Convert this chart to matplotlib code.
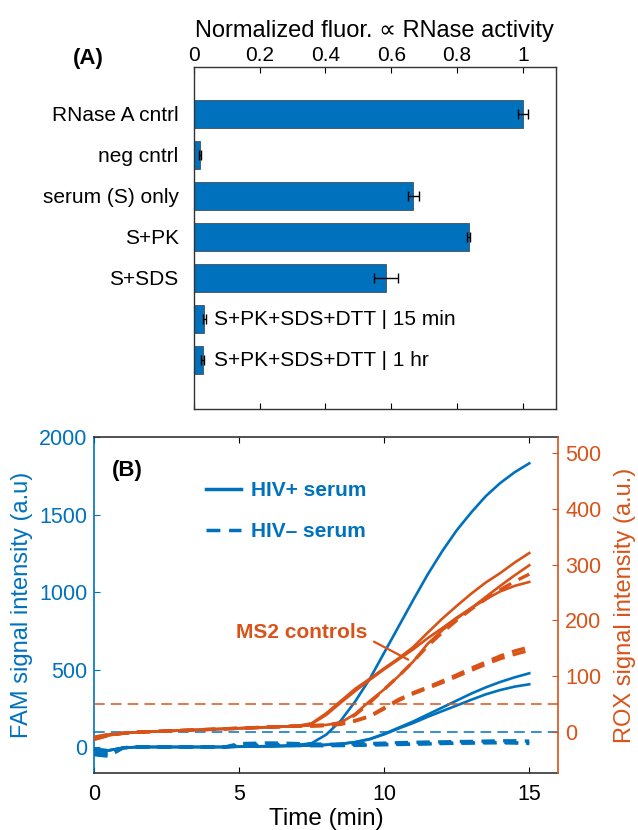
import matplotlib
matplotlib.use("Agg")
import matplotlib.pyplot as plt
from matplotlib.lines import Line2D

plt.rcParams['font.family'] = ['Liberation Sans', 'DejaVu Sans']

BLUE = '#0072BD'
ORANGE = '#D95319'

# ---------------- Panel A data ----------------
categories = ['RNase A cntrl', 'neg cntrl', 'serum (S) only', 'S+PK', 'S+SDS',
              'S+PK+SDS+DTT | 15 min', 'S+PK+SDS+DTT | 1 hr']
activity = [1.0, 0.018, 0.667, 0.835, 0.584, 0.032, 0.026]
activity_err = [0.016, 0.004, 0.016, 0.004, 0.035, 0.004, 0.004]
xticks_a = [0, 0.2, 0.4, 0.6, 0.8, 1]
xticklabels_a = ['0', '0.2', '0.4', '0.6', '0.8', '1']

# ---------------- Panel B data ----------------
time_min = [0, 0.5, 1, 1.5, 2, 2.5, 3, 3.5, 4, 4.5, 5, 5.5, 6, 6.5, 7, 7.5,
            8, 8.5, 9, 9.5, 10, 10.5, 11, 11.5, 12, 12.5, 13, 13.5, 14, 14.5, 15]

# FAM (left axis), HIV+ serum (solid)
fam_pos_1 = [-15, -22, -5, 0, 0, 0, 0, 0, 0, 0, 2, 4, 6, 8, 12, 25,
             80, 170, 295, 440, 610, 780, 950, 1115, 1265, 1400, 1515, 1620, 1705, 1775, 1832]
fam_pos_2 = [-15, -22, -5, 0, 0, 0, 0, 0, 0, 0, 2, 3, 4, 6, 8, 10,
             14, 20, 32, 52, 85, 125, 165, 210, 255, 300, 345, 385, 420, 450, 476]
fam_pos_3 = [-15, -22, -5, 0, 0, 0, 0, 0, 0, 0, 2, 3, 4, 6, 8, 10,
             14, 20, 31, 50, 82, 120, 155, 195, 232, 268, 305, 340, 368, 390, 405]
# FAM (left axis), HIV- serum (dashed)
fam_neg_1 = [-50, -60, -5, 0, 0, 0, 0, 0, 0, 0, 22, 24, 26, 25, 22, 20,
             18, 18, 20, 22, 25, 28, 30, 32, 33, 35, 36, 38, 40, 40, 38]
fam_neg_2 = [-40, -48, -5, 0, 0, 0, 0, 0, 0, 0, 12, 14, 16, 16, 15, 13,
             12, 14, 15, 16, 18, 19, 20, 22, 24, 26, 28, 30, 30, 28, 25]
fam_neg_3 = [-30, -35, -5, 0, 0, 0, 0, 0, 0, 0, 6, 8, 10, 10, 9, 8,
             8, 9, 10, 12, 14, 16, 18, 20, 22, 24, 25, 26, 27, 26, 22]

# ROX (right axis), HIV+ serum MS2 controls (solid)
rox_pos_1 = [-12, -6, -3, -1, 0, 1, 2, 3, 4, 5, 6, 7, 8, 9, 10, 15,
             33, 55, 77, 95, 114, 132, 152, 178, 203, 226, 248, 268, 285, 304, 321]
rox_pos_2 = [-10, -5, -3, -1, 0, 1, 2, 3, 4, 5, 6, 7, 8, 9, 10, 14,
             30, 52, 73, 93, 112, 130, 148, 168, 186, 205, 222, 238, 252, 262, 269]
rox_pos_3 = [-14, -7, -3, -1, 0, 1, 2, 3, 4, 5, 6, 7, 8, 9, 10, 11,
             12, 16, 32, 55, 76, 100, 126, 158, 182, 203, 222, 242, 262, 281, 299]
# ROX (right axis), HIV- serum MS2 controls (dashed)
rox_neg_1 = [-12, -6, -3, -1, 0, 1, 2, 3, 4, 5, 6, 7, 8, 9, 10, 11,
             12, 16, 30, 52, 76, 100, 126, 154, 178, 200, 220, 238, 255, 270, 283]
rox_neg_2 = [-10, -5, -3, -1, 0, 1, 2, 3, 4, 5, 6, 7, 8, 9, 10, 10,
             11, 14, 20, 28, 43, 58, 70, 80, 91, 102, 114, 125, 136, 145, 152]
rox_neg_3 = [-14, -7, -3, -1, 0, 1, 2, 3, 4, 5, 6, 7, 8, 9, 10, 10,
             11, 13, 19, 27, 41, 56, 68, 78, 88, 99, 110, 121, 131, 139, 146]

fam_threshold = 100
rox_threshold = 50

fam_ticks = [0, 500, 1000, 1500, 2000]
rox_ticks = [0, 100, 200, 300, 400, 500]
time_ticks = [0, 5, 10, 15]

# ---------------- Figure ----------------
fig = plt.figure(figsize=(6.38, 8.30), dpi=100)

# Panel A
axA = fig.add_axes([0.304, 0.5069, 0.567, 0.4127])
ypos = list(range(1, len(categories) + 1))
axA.barh(ypos, activity, height=0.7, color=BLUE, edgecolor='#3a3a3a', linewidth=0.5)
axA.errorbar(activity, ypos, xerr=activity_err, fmt='none', ecolor='black',
             elinewidth=1.0, capsize=3.5, capthick=1.0)
axA.set_xlim(0, 1.1)
axA.set_ylim(8.2, -0.15)
axA.set_yticks(ypos[:5])
axA.set_yticklabels(categories[:5], fontsize=15)
axA.tick_params(axis='y', length=0, pad=11)
for y, lab in zip(ypos[5:], categories[5:]):
    axA.text(0.062, y, lab, fontsize=15, va='center', ha='left')
axA.xaxis.tick_top()
axA.xaxis.set_label_position('top')
axA.set_xticks(xticks_a)
axA.set_xticklabels(xticklabels_a, fontsize=15)
axA.tick_params(axis='x', direction='in', top=True, bottom=True, length=4, pad=1)
axA.set_xlabel('Normalized fluor. \u221d RNase activity', fontsize=17, labelpad=7)
for s in axA.spines.values():
    s.set_color('#333333')
    s.set_linewidth(1.0)
fig.text(0.139, 0.929, '(A)', fontsize=16, fontweight='bold', ha='center', va='center')

# Panel B
ax1 = fig.add_axes([0.1478, 0.0683, 0.7272, 0.4048])
ax2 = ax1.twinx()

lw = 1.9
for v in (fam_pos_1, fam_pos_2, fam_pos_3):
    ax1.plot(time_min, v, color=BLUE, lw=lw)
for v in (fam_neg_1, fam_neg_2, fam_neg_3):
    ax1.plot(time_min, v, color=BLUE, lw=2.4, dashes=(4, 2.5))
ax1.axhline(fam_threshold, color=BLUE, lw=1.1, dashes=(7, 4))

for v in (rox_pos_1, rox_pos_2, rox_pos_3):
    ax2.plot(time_min, v, color=ORANGE, lw=lw)
for v in (rox_neg_1, rox_neg_2, rox_neg_3):
    ax2.plot(time_min, v, color=ORANGE, lw=2.4, dashes=(4, 2.5))
ax2.axhline(rox_threshold, color=ORANGE, lw=1.1, dashes=(7, 4))

ax1.set_xlim(0, 16)
ax1.set_ylim(-170, 2000)
ax2.set_ylim(-75, 529)
ax1.set_xticks(time_ticks)
ax1.set_xticklabels([str(t) for t in time_ticks], fontsize=15.5)
ax1.set_yticks(fam_ticks)
ax1.set_yticklabels([str(t) for t in fam_ticks], fontsize=15.5)
ax2.set_yticks(rox_ticks)
ax2.set_yticklabels([str(t) for t in rox_ticks], fontsize=15.5)

ax1.tick_params(axis='x', direction='in', top=True, bottom=True, length=4, pad=8, colors='black')
ax1.tick_params(axis='y', direction='in', length=4, pad=5, colors=BLUE)
ax2.tick_params(axis='y', direction='in', length=4, pad=5, colors=ORANGE)

ax1.spines['left'].set_color(BLUE)
ax1.spines['right'].set_visible(False)
ax2.spines['left'].set_visible(False)
ax2.spines['right'].set_color(ORANGE)
ax2.spines['top'].set_visible(False)
ax2.spines['bottom'].set_visible(False)
for s in ('left', 'top', 'bottom'):
    ax1.spines[s].set_linewidth(1.2)
ax2.spines['right'].set_linewidth(1.2)
ax1.spines['top'].set_color('#333333')
ax1.spines['bottom'].set_color('#333333')

ax1.set_xlabel('Time (min)', fontsize=17.5, labelpad=2)
ax1.set_ylabel('FAM signal intensity (a.u)', fontsize=17, color=BLUE, labelpad=4)
ax2.set_ylabel('ROX signal intensity (a.u.)', fontsize=17, color=ORANGE, labelpad=9)

handles = [Line2D([], [], color=BLUE, lw=2.5),
           Line2D([], [], color=BLUE, lw=2.5, dashes=(4, 2.5))]
leg = ax2.legend(handles, ['HIV+ serum', 'HIV\u2013 serum'], loc='upper left',
                 bbox_to_anchor=(0.20, 0.925), frameon=False, handlelength=1.7,
                 handletextpad=0.45, labelspacing=1.05,
                 prop={'weight': 'bold', 'size': 15})
for txt in leg.get_texts():
    txt.set_color(BLUE)

ax1.text(0.037, 0.90, '(B)', transform=ax1.transAxes, fontsize=16,
         fontweight='bold', ha='left', va='center')

ax2.text(4.87, 178, 'MS2 controls', fontsize=15, fontweight='bold', color=ORANGE,
         ha='left', va='center')
ax2.annotate('', xy=(10.91, 127), xytext=(9.56, 164),
             arrowprops=dict(arrowstyle='-', color=ORANGE, lw=1.6))

fig.savefig('out.png', dpi=100)
